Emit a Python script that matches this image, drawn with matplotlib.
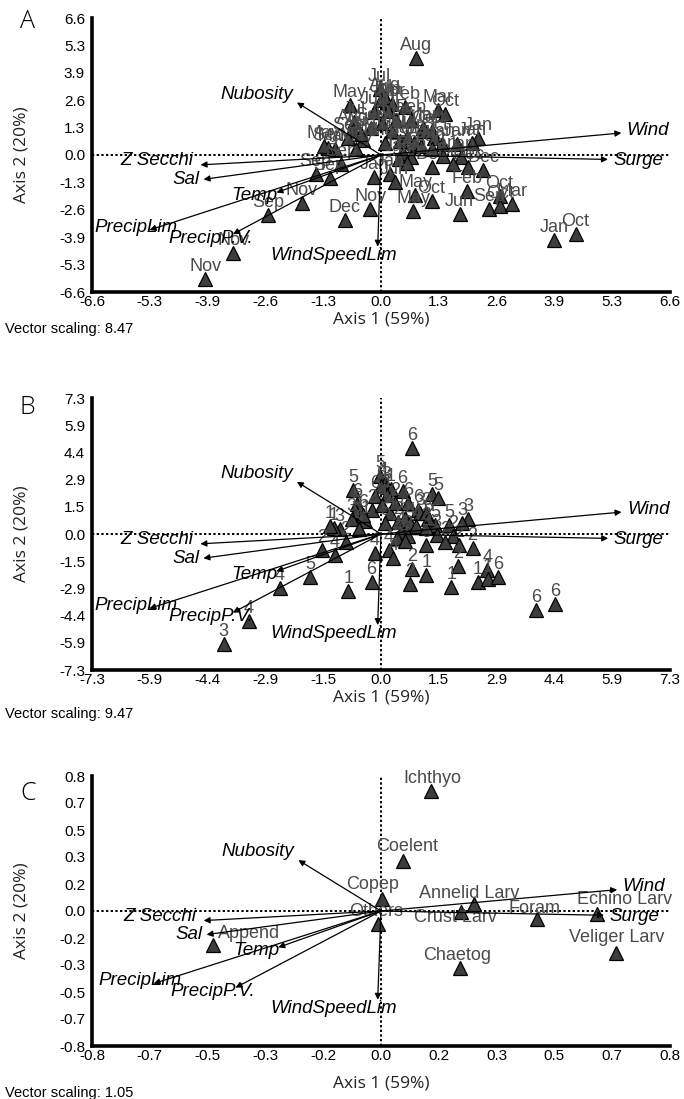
import numpy as np
import matplotlib
matplotlib.use("Agg")
import matplotlib.pyplot as plt

# ---------------- data ----------------
# environmental vectors (unscaled loadings on axis 1 / axis 2)
env_names = ["Wind", "Surge", "Nubosity", "Z Secchi", "Sal", "Temp",
             "PrecipLim", "PrecipP.V.", "WindSpeedLim"]
env_ax1 = [0.646, 0.610, -0.226, -0.485, -0.477, -0.281, -0.622, -0.398, -0.009]
env_ax2 = [0.125, -0.025, 0.298, -0.056, -0.138, -0.213, -0.425, -0.449, -0.520]

# sample scores (shared by panels A and B)
samp_ax1 = [0.80, -0.03, 0.10, -0.71, 0.14, 0.25, 0.00, 0.55, 1.30, 1.45,
            -0.15, 0.16, 0.69, -0.61, -0.63, -0.22, 0.03, 0.24, 0.95, 1.00,
            1.15, 2.21, 2.07, -0.75, -0.40, -0.56, -1.05, -1.20, 0.43, 0.60,
            0.75, 0.90, 1.38, 1.74, 0.50, 0.68, 1.42, 1.83, 1.64, 1.15,
            1.99, 2.33, 0.40, 0.60, -0.90, -1.49, -1.17, -0.15, 0.20, 0.31,
            -1.80, -0.24, -0.83, 0.73, 0.78, 1.15, 1.96, 1.79, 2.47, 2.70,
            2.72, 2.98, 3.95, 4.43, -2.57, -3.36, -4.00, -1.30, 0.10, 1.20,
            0.35, -0.45, 1.15]
samp_ax2 = [4.64, 3.15, 2.75, 2.38, 2.55, 2.45, 2.62, 2.30, 2.15, 1.95,
            2.07, 2.10, 1.68, 1.60, 1.21, 1.30, 1.55, 1.14, 1.31, 1.14,
            1.14, 0.83, 0.59, 0.83, 0.72, 0.28, 0.28, 0.35, 0.67, 0.85,
            0.60, 0.45, 0.51, 0.51, 0.10, -0.10, -0.03, -0.11, -0.42, -0.58,
            -0.58, -0.73, -0.20, -0.40, -0.42, -0.89, -1.12, -1.04, -0.89, -1.28,
            -2.31, -2.60, -3.10, -2.71, -1.90, -2.21, -1.74, -2.84, -2.60, -1.96,
            -2.43, -2.34, -4.10, -3.79, -2.90, -4.72, -5.95, 0.45, 0.60, 0.80,
            1.70, 1.00, 0.30]
samp_month = ["Aug", "Jul", "Aug", "May", "Jun", "Abr", "Jul", "Feb", "Mar", "Oct",
              "Jun", "Jul", "Feb", "Jul", "Aug", "Sep", "Jun", "Mar", "Mar", "Oct",
              "Oct", "Jan", "Jan", "Sep", "Aug", "May", "May", "Sep", "Mar", "Mar",
              "Oct", "Feb", "Jan", "Jan", "Feb", "Feb", "Jan", "Jan", "Dec", "Dec",
              "Dec", "Dec", "Jan", "Jan", "Sep", "Sep", "Sep", "Jan", "Jan", "Jun",
              "Nov", "Nov", "Dec", "May", "May", "Oct", "Feb", "Jun", "Sep", "Oct",
              "Oct", "Mar", "Jan", "Oct", "Sep", "Nov", "Nov", "May", "Mar", "Oct",
              "Mar", "Aug", "Jan"]
samp_group = ["6", "5", "1", "5", "3", "1", "6", "6", "5", "5",
              "6", "1", "6", "6", "5", "2", "4", "4", "6", "3",
              "3", "3", "3", "3", "1", "4", "3", "1", "2", "6",
              "4", "4", "5", "5", "4", "3", "3", "2", "2", "5",
              "2", "2", "3", "4", "2", "2", "4", "4", "4", "4",
              "5", "6", "1", "2", "2", "1", "2", "1", "1", "4",
              "1", "6", "6", "6", "4", "4", "3", "1", "5", "6",
              "2", "6", "3"]

# species scores (panel C)
sp_names = ["Ichthyo", "Coelent", "Copep", "Others", "Annelid Larv", "Crust Larv",
            "Foram", "Echino Larv", "Veliger Larv", "Chaetog", "Append"]
sp_ax1 = [0.144, 0.064, 0.004, -0.010, 0.268, 0.229, 0.448, 0.619, 0.674, 0.226, -0.483]
sp_ax2 = [0.740, 0.310, 0.075, -0.078, 0.041, -0.006, -0.050, -0.016, -0.258, -0.348, -0.206]

ticklabels_A = ["-6.6", "-5.3", "-3.9", "-2.6", "-1.3", "0.0", "1.3", "2.6", "3.9", "5.3", "6.6"]
ticklabels_B = ["-7.3", "-5.9", "-4.4", "-2.9", "-1.5", "0.0", "1.5", "2.9", "4.4", "5.9", "7.3"]
ticklabels_C = ["-0.8", "-0.7", "-0.5", "-0.3", "-0.2", "0.0", "0.2", "0.3", "0.5", "0.7", "0.8"]
axis_limits = [6.58, 7.35, 0.83]
vector_scaling = [8.47, 9.47, 1.05]
panel_letters = ["A", "B", "C"]
xlabel = "Axis 1 (59%)"
ylabel = "Axis 2 (20%)"

# ---------------- style ----------------
SANS = ["Liberation Sans", "DejaVu Sans"]
NARROW = ["Liberation Sans Narrow", "Liberation Sans", "DejaVu Sans"]
plt.rcParams["font.family"] = SANS

env_label_style = {
    "Wind": dict(ha="left", off=(4, 2)),
    "Surge": dict(ha="left", off=(4, -1)),
    "Nubosity": dict(ha="right", off=(-3, 6)),
    "Z Secchi": dict(ha="right", off=(-5, 3)),
    "Sal": dict(ha="right", off=(-3, 0)),
    "Temp": dict(ha="right", off=(1, -2)),
    "PrecipLim": dict(ha="center", off=(-10, 2)),
    "PrecipP.V.": dict(ha="center", off=(-16, -3)),
    "WindSpeedLim": dict(ha="center", off=(-32, -6)),
}
sp_label_off = {
    "Ichthyo": (1, 9), "Coelent": (3, 10), "Copep": (-7, 10), "Others": (-1, 9),
    "Annelid Larv": (-4, 8), "Crust Larv": (-4, -4), "Foram": (-2, 8),
    "Echino Larv": (20, 10), "Veliger Larv": (1, 11), "Chaetog": (-2, 9),
    "Append": (26, 8),
}

W, H = 684, 1099
fig = plt.figure(figsize=(W / 100, H / 100), dpi=100)

left_px, right_px = 92, 670
panel_px = [(18, 292), (398, 670), (776, 1046)]
label_y_px = [22, 407, 793]
xl_y_px = [320, 698, 1084]
vs_y_px = [329, 714, 1093]

tri_face = "#3d3d3d"
pt_text = "#4a4a4a"

for i in range(3):
    top, bot = panel_px[i]
    ax = fig.add_axes([left_px / W, 1 - bot / H, (right_px - left_px) / W, (bot - top) / H])
    L = axis_limits[i]
    ax.set_xlim(-L, L)
    ax.set_ylim(-L, L)
    ticks = np.linspace(-L, L, 11)
    tl = [ticklabels_A, ticklabels_B, ticklabels_C][i]
    ax.set_xticks(ticks)
    ax.set_xticklabels(tl)
    ax.set_yticks(ticks)
    ax.set_yticklabels(tl)
    ax.tick_params(length=0, labelsize=11)
    ax.tick_params(axis="x", pad=2)
    ax.tick_params(axis="y", pad=5)
    for s in ("top", "right"):
        ax.spines[s].set_visible(False)
    for s in ("left", "bottom"):
        ax.spines[s].set_linewidth(2.6)
    ax.axhline(0, color="black", ls=(0, (1.2, 1.2)), lw=1.4, zorder=1)
    ax.axvline(0, color="black", ls=(0, (1.2, 1.2)), lw=1.4, zorder=1)

    # points
    if i < 2:
        xs, ys = samp_ax1, samp_ax2
        labs = samp_month if i == 0 else samp_group
        offs = [(0, 9)] * len(xs)
    else:
        xs, ys = sp_ax1, sp_ax2
        labs = sp_names
        offs = [sp_label_off[n] for n in sp_names]
    ax.plot(xs, ys, ls="none", marker="^", ms=9.5, mfc=tri_face, mec="black",
            mew=0.9, zorder=3)
    for x, y, t, o in zip(xs, ys, labs, offs):
        ax.annotate(t, (x, y), xytext=o, textcoords="offset points",
                    ha="center", va="center", fontsize=13, color=pt_text, zorder=4)

    # vectors
    vs = vector_scaling[i]
    for n, a1, a2 in zip(env_names, env_ax1, env_ax2):
        tx, ty = a1 * vs, a2 * vs
        ax.annotate("", xy=(tx, ty), xytext=(0, 0),
                    arrowprops=dict(arrowstyle="-|>", color="black", lw=0.9,
                                    mutation_scale=9, shrinkA=0, shrinkB=0),
                    zorder=5)
        st = env_label_style[n]
        ax.annotate(n, (tx, ty), xytext=st["off"], textcoords="offset points",
                    ha=st["ha"], va="center", fontsize=13.5, style="italic",
                    color="black", zorder=6)

    # text
    fig.text(20 / W, 1 - label_y_px[i] / H, panel_letters[i], fontsize=18,
             family=["Open Sans", "DejaVu Sans"], fontweight="light",
             ha="left", va="center")
    fig.text((left_px + right_px) / 2 / W, 1 - xl_y_px[i] / H, xlabel,
             fontsize=12.5, family=["Open Sans", "DejaVu Sans"],
             ha="center", va="center", color="#222222")
    fig.text(22 / W, 1 - (top + bot) / 2 / H, ylabel, rotation=90,
             fontsize=12.5, family=["Open Sans", "DejaVu Sans"],
             ha="center", va="center", color="#222222")
    fig.text(5 / W, 1 - vs_y_px[i] / H, f"Vector scaling: {vs:.2f}",
             fontsize=10.5, family=NARROW, ha="left", va="center")

fig.savefig("out.png", dpi=100)
